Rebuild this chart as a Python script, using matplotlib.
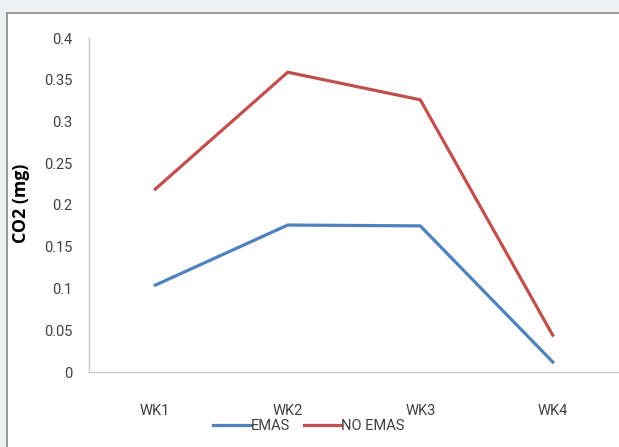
import matplotlib
matplotlib.use("Agg")
import matplotlib.pyplot as plt
from matplotlib.patches import Rectangle
from matplotlib.lines import Line2D

weeks = ["WK1", "WK2", "WK3", "WK4"]
emas = [0.104, 0.176, 0.175, 0.012]
no_emas = [0.219, 0.359, 0.326, 0.044]
yticks = [0, 0.05, 0.1, 0.15, 0.2, 0.25, 0.3, 0.35, 0.4]
ytick_labels = ["0", "0.05", "0.1", "0.15", "0.2", "0.25", "0.3", "0.35", "0.4"]

plt.rcParams['font.family'] = ['Roboto', 'DejaVu Sans']

W, H = 619, 447
fig = plt.figure(figsize=(W / 100, H / 100), dpi=100)
fig.patch.set_facecolor('#eff0f2')

# white chart area with grey frame
fig.add_artist(Rectangle((7 / W, -0.05), 1.2, 1 - 13 / H + 0.05,
                         transform=fig.transFigure, facecolor='white',
                         edgecolor='#8a8a8a', linewidth=1.2, zorder=0))

ax = fig.add_axes([89 / W, 1 - 372 / H, (W - 89) / W, (372 - 38) / H])
ax.set_facecolor('none')
x = list(range(len(weeks)))
ax.plot(x, emas, color='#4f81bd', linewidth=2.3, label='EMAS')
ax.plot(x, no_emas, color='#c0504d', linewidth=2.3, label='NO EMAS')

ax.set_xlim(-0.5, 3.5)
ax.set_ylim(0, 0.4)
ax.set_yticks(yticks)
ax.set_yticklabels(ytick_labels, fontsize=10.5, color='#404040')
ax.set_xticks(x)
ax.set_xticklabels(weeks, fontsize=10.5, color='#404040')
ax.tick_params(axis='both', length=0)
ax.tick_params(axis='y', pad=12)
ax.tick_params(axis='x', pad=23)
for s in ['top', 'right']:
    ax.spines[s].set_visible(False)
for s in ['left', 'bottom']:
    ax.spines[s].set_color('#c8c8c8')
    ax.spines[s].set_linewidth(1.0)

fig.text(21 / W, 1 - 203 / H, "CO2 (mg)", rotation=90, fontsize=12.8,
         fontweight='bold', ha='center', va='center',
         family=['Open Sans', 'DejaVu Sans'])

handles = [Line2D([], [], color='#4f81bd', linewidth=2.3),
           Line2D([], [], color='#c0504d', linewidth=2.3)]
fig.legend(handles, ['EMAS', 'NO EMAS'], loc='center',
           bbox_to_anchor=(309 / W, 1 - 426 / H), ncol=2, frameon=False,
           fontsize=10.5, handlelength=2.6, handletextpad=0.0,
           columnspacing=0.9, labelcolor='#404040')

fig.savefig("out.png", dpi=100, facecolor=fig.get_facecolor())
